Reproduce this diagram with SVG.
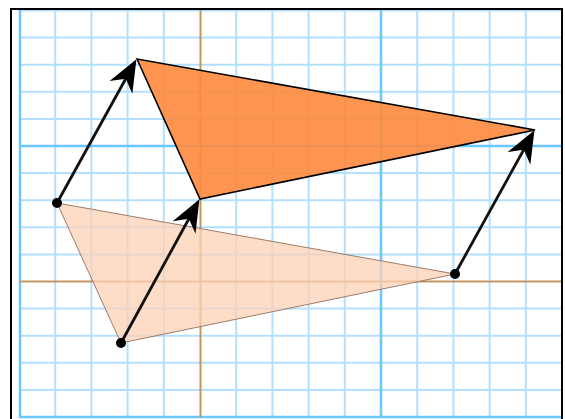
<svg xmlns="http://www.w3.org/2000/svg" width="565" height="419" viewBox="0 0 565 419">
<defs>
<style>
.g{stroke:#b3e0ff;stroke-width:2;fill:none}
.gt{stroke:#6cc6ff;stroke-width:2.5;fill:none}
.ax{stroke:#c39660;stroke-width:2;fill:none}
.vec{stroke:#111;stroke-width:2.8;fill:none;marker-end:url(#ah)}
.dot{fill:#000}
</style>
<marker id="ah" markerUnits="userSpaceOnUse" viewBox="-32 -16 36 32" refX="0" refY="0" markerWidth="36" markerHeight="32" orient="auto">
<path d="M3,0 L-29,-13 L-19,0 L-29,13 Z" fill="#000"/>
</marker>
</defs>
<rect x="0" y="0" width="565" height="419" fill="#fff"/>
<g id="grid">
<path class="g" d="M55.2,10V418M91.4,10V418M127.6,10V418M163.8,10V418M236.2,10V418M272.4,10V418M308.6,10V418M344.8,10V418M417.2,10V418M453.4,10V418M489.6,10V418M525.8,10V418"/>
<path class="g" d="M19,10.5H562M19,37.6H562M19,64.7H562M19,91.8H562M19,118.9H562M19,173.1H562M19,200.2H562M19,227.3H562M19,254.4H562M19,308.6H562M19,335.7H562M19,362.8H562M19,389.9H562"/>
<path class="gt" d="M20,10V418M381,10V418M19,146H562M19,417H562"/>
<path class="ax" d="M200.5,10V418M19,281.5H562"/>
</g>
<g id="triangles">
<polygon id="image-triangle" points="57,203 121,343 455,274" fill="#fcd2b6" fill-opacity="0.75" stroke="#9c7b68" stroke-width="1"/>
<polygon id="translated-triangle" points="137,59 200,199 535,130" fill="#fd8a3e" fill-opacity="0.9" stroke="#000" stroke-width="1.6"/>
</g>
<g id="connectors">
<line class="vec" x1="57" y1="203" x2="135" y2="62"/>
<line class="vec" x1="121" y1="343" x2="198" y2="202"/>
<line class="vec" x1="455" y1="274" x2="533" y2="133"/>
</g>
<g id="points">
<circle class="dot" cx="57" cy="203" r="5"/>
<circle class="dot" cx="121" cy="343" r="5"/>
<circle class="dot" cx="455" cy="274" r="5"/>
</g>
<rect x="11" y="9" width="551" height="411" fill="none" stroke="#000" stroke-width="2"/>
</svg>
